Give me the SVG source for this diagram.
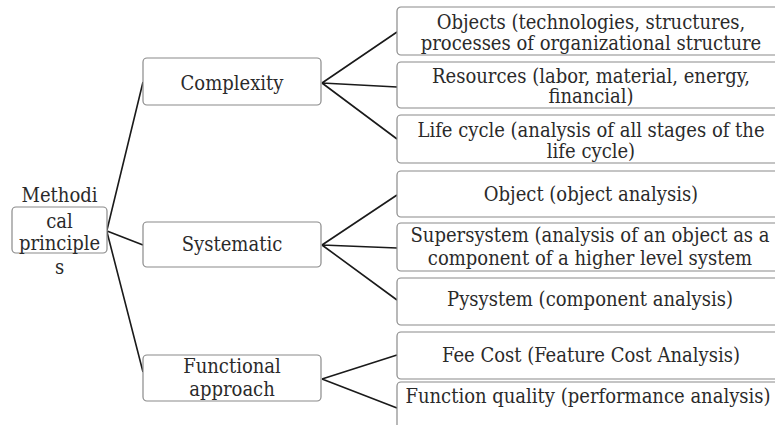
<svg xmlns="http://www.w3.org/2000/svg" width="775" height="425" viewBox="0 0 775 425">
<style>
.box{fill:#fff;stroke:#8a8a8a;stroke-width:1.2}
.t{font-family:"DejaVu Serif Condensed","Liberation Serif","Times New Roman",serif;font-size:20px;fill:#2a2a2a;text-anchor:middle}
.c{stroke:#1a1a1a;stroke-width:1.6;fill:none}
</style>
<rect width="775" height="425" fill="#fff"/>
<g id="connectors">
<path class="c" d="M107,230 L143,82 M107,231 L143,245 M107,232 L143,372"/>
<path class="c" d="M322,83 L397,32 M322,83 L397,87 M322,83 L397,139"/>
<path class="c" d="M322,245 L397,195 M322,245 L397,248 M322,245 L397,300"/>
<path class="c" d="M322,379 L397,355 M322,379 L397,408"/>
</g>
<g id="root">
<rect class="box" x="12" y="207" width="95" height="46" rx="4"/>
<text class="t" x="59.5" y="202">Methodi</text>
<text class="t" x="59.5" y="228">cal</text>
<text class="t" x="59.5" y="250">principle</text>
<text class="t" x="59.5" y="274">s</text>
</g>
<g id="complexity">
<rect class="box" x="143" y="58" width="178" height="47" rx="4"/>
<text class="t" x="232" y="90">Complexity</text>
</g>
<g id="systematic">
<rect class="box" x="143" y="222" width="178" height="45" rx="4"/>
<text class="t" x="232" y="251">Systematic</text>
</g>
<g id="functional">
<rect class="box" x="143" y="355" width="178" height="46" rx="4"/>
<text class="t" x="232" y="373">Functional</text>
<text class="t" x="232" y="396">approach</text>
</g>
<g id="objects">
<rect class="box" x="397" y="7" width="390" height="48" rx="4"/>
<text class="t" x="591" y="29">Objects (technologies, structures,</text>
<text class="t" x="591" y="50">processes of organizational structure</text>
</g>
<g id="resources">
<rect class="box" x="397" y="62" width="390" height="46" rx="4"/>
<text class="t" x="591" y="83">Resources (labor, material, energy,</text>
<text class="t" x="591" y="103">financial)</text>
</g>
<g id="lifecycle">
<rect class="box" x="397" y="115" width="390" height="48" rx="4"/>
<text class="t" x="591" y="137">Life cycle (analysis of all stages of the</text>
<text class="t" x="591" y="158">life cycle)</text>
</g>
<g id="object">
<rect class="box" x="397" y="171" width="390" height="46" rx="4"/>
<text class="t" x="591" y="201">Object (object analysis)</text>
</g>
<g id="supersystem">
<rect class="box" x="397" y="223" width="390" height="48" rx="4"/>
<text class="t" x="590" y="242">Supersystem (analysis of an object as a</text>
<text class="t" x="590" y="265">component of a higher level system</text>
</g>
<g id="pysystem">
<rect class="box" x="397" y="278" width="390" height="47" rx="4"/>
<text class="t" x="590" y="306">Pysystem (component analysis)</text>
</g>
<g id="feecost">
<rect class="box" x="397" y="332" width="390" height="47" rx="4"/>
<text class="t" x="591" y="362">Fee Cost (Feature Cost Analysis)</text>
</g>
<g id="quality">
<rect class="box" x="397" y="382" width="390" height="50" rx="4"/>
<text class="t" x="588" y="403">Function quality (performance analysis)</text>
</g>
</svg>
